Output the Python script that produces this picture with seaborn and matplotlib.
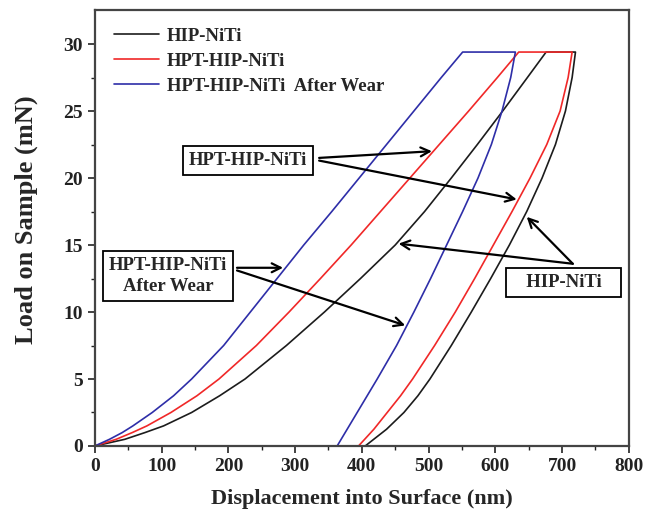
import numpy as np
import pandas as pd
import matplotlib
matplotlib.use("Agg")
import matplotlib.pyplot as plt
import seaborn as sns
from matplotlib.lines import Line2D

# ---------------- data ----------------
series_names = ["HIP-NiTi", "HPT-HIP-NiTi", "HPT-HIP-NiTi  After Wear"]
colors = ["#1c1c1c", "#f02828", "#2e2ea8"]

# load levels (mN) at which displacements were read
load_up = [0, 0.5, 1, 1.5, 2.5, 3.75, 5, 7.5, 10, 12.5, 15, 17.5, 20, 22.5, 25, 27.5, 29.4]
load_down = [29.4, 27.5, 25, 22.5, 20, 17.5, 15, 12.5, 10, 7.5, 5, 3.75, 2.5, 1.25, 0]

# HIP-NiTi (displacement, nm)
hip_load_x = [0, 45, 75, 103, 145, 187, 225, 287, 344, 398, 450, 494, 534, 573, 611, 648, 676]
hip_unload_x = [720, 715, 705, 690, 670, 647, 621, 593, 564, 534, 502, 484, 463, 437, 405]

# HPT-HIP-NiTi
hpt_load_x = [0, 32, 56, 78, 114, 153, 186, 242, 291, 338, 384, 428, 472, 516, 560, 603, 635]
hpt_unload_x = [715, 709, 697, 677, 652, 625, 597, 569, 540, 509, 476, 458, 438, 418, 395]

# HPT-HIP-NiTi After Wear
wear_load_x = [0, 22, 41, 57, 86, 118, 145, 193, 233, 273, 313, 355, 396, 437, 478, 519, 551]
wear_unload_x = [630, 623, 610, 594, 574, 551, 527, 503, 478, 452, 423, 408, 393, 378, 363]

x_ticks = [0, 100, 200, 300, 400, 500, 600, 700, 800]
y_ticks = [0, 5, 10, 15, 20, 25, 30]

# ---------------- build frame (loading -> hold -> unloading) ----------------
frames = []
for name, lx, ux in zip(series_names,
                        [hip_load_x, hpt_load_x, wear_load_x],
                        [hip_unload_x, hpt_unload_x, wear_unload_x]):
    xs = list(lx) + list(ux)
    ys = list(load_up) + list(load_down)
    frames.append(pd.DataFrame({"x": xs, "y": ys, "series": name}))
df = pd.concat(frames, ignore_index=True)

sns.set_style("ticks")
plt.rcParams["font.family"] = ["Liberation Serif", "DejaVu Serif"]
plt.rcParams["font.weight"] = "bold"

fig = plt.figure(figsize=(6.45, 5.18), dpi=100)
ax = fig.add_axes([0.147, 0.139, 0.828, 0.842])

sns.lineplot(data=df, x="x", y="y", hue="series", hue_order=series_names,
             palette=colors, sort=False, estimator=None, units="series",
             linewidth=1.2, ax=ax, legend=False)

ax.set_xlim(0, 800)
ax.set_ylim(0, 32.55)
ax.set_xticks(x_ticks)
ax.set_yticks(y_ticks)
ax.set_xticks(np.arange(50, 800, 100), minor=True)
ax.set_yticks(np.arange(2.5, 32.5, 5), minor=True)
ax.tick_params(which="major", direction="out", length=5, width=1.2, labelsize=14, colors="#222222")
ax.tick_params(which="minor", direction="out", length=3, width=1.0, colors="#222222")
for lab in ax.get_xticklabels() + ax.get_yticklabels():
    lab.set_fontweight("bold")
for sp in ax.spines.values():
    sp.set_visible(True)
    sp.set_linewidth(1.6)
    sp.set_color("#444444")

ax.set_xlabel("Displacement into Surface (nm)", fontsize=16, fontweight="bold", labelpad=10)
ax.set_ylabel("Load on Sample (mN)", fontsize=19, fontweight="bold")
ax.yaxis.set_label_coords(-0.107, 0.518)

# legend
handles = [Line2D([0], [0], color=c, lw=1.2) for c in colors]
ax.legend(handles, series_names, loc="upper left", bbox_to_anchor=(0.005, 0.998),
          frameon=False, handlelength=2.4, handletextpad=0.4, labelspacing=0.42,
          prop={"family": "Liberation Serif", "weight": "bold", "size": 13.5})

# annotation boxes with arrows
box = dict(boxstyle="square,pad=0.32", fc="white", ec="black", lw=1.3)
arrow = dict(arrowstyle="->", color="black", lw=1.6, mutation_scale=16, shrinkA=0, shrinkB=0)

ax.text(229, 21.3, "HPT-HIP-NiTi", ha="center", va="center", fontsize=13.5,
        fontweight="bold", bbox=box)
ax.annotate("", xy=(505, 22.0), xytext=(336, 21.5), arrowprops=arrow)
ax.annotate("", xy=(632, 18.4), xytext=(336, 21.3), arrowprops=arrow)

ax.text(110, 12.7, "HPT-HIP-NiTi\nAfter Wear", ha="center", va="center", fontsize=13.5,
        fontweight="bold", bbox=box, linespacing=1.3)
ax.annotate("", xy=(282, 13.3), xytext=(213, 13.3), arrowprops=arrow)
ax.annotate("", xy=(465, 9.0), xytext=(213, 13.1), arrowprops=arrow)

ax.text(702, 12.2, "   HIP-NiTi   ", ha="center", va="center", fontsize=13.5,
        fontweight="bold", bbox=box)
ax.annotate("", xy=(647, 17.1), xytext=(716, 13.6), arrowprops=arrow)
ax.annotate("", xy=(455, 15.1), xytext=(716, 13.6), arrowprops=arrow)

fig.savefig("out.png", dpi=100)
